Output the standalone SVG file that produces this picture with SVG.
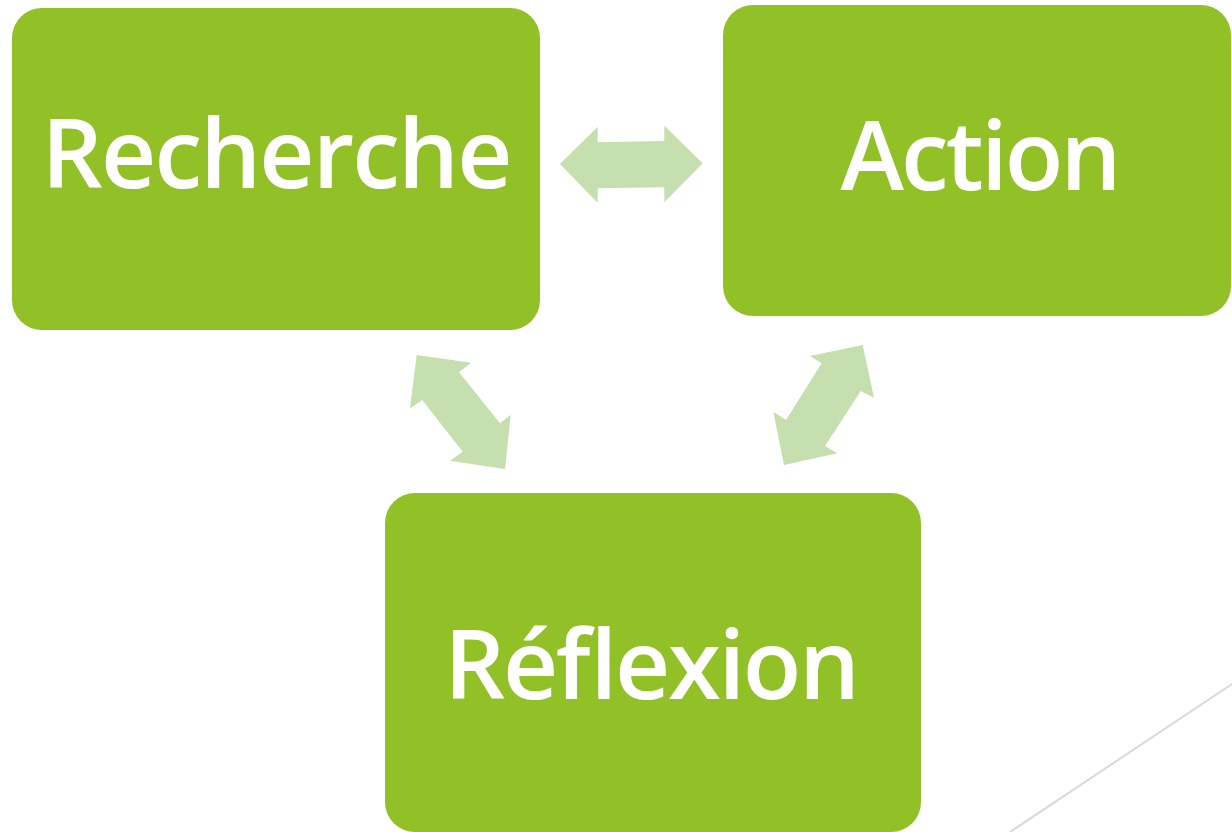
<svg xmlns="http://www.w3.org/2000/svg" width="1232" height="832" viewBox="0 0 1232 832">
<style>
.box{fill:#92C027}
.lbl{fill:#FFFFFF;font-family:"Open Sans","Liberation Sans",sans-serif;font-size:96px;font-weight:600;text-anchor:middle}
.arr{fill:#C5DFAE}
</style>
<rect width="1232" height="832" fill="#FFFFFF"/>
<line x1="1232" y1="684" x2="1010" y2="832" stroke="#D9D9D9" stroke-width="2"/>
<g id="connectors">
<polygon class="arr" points="560,164 597.7,126.7 597.7,142.3 664.3,141 664.3,125.7 702.7,163.3 664.3,202.3 664.3,187.3 597.7,188.3 597.7,202.7"/>
<polygon class="arr" points="416.7,355 471,362.7 459,372.3 500,423.3 510.7,415 505,469 450,460.7 462.7,451.7 422.3,400 410,408.3"/>
<polygon class="arr" points="862.7,345 810,356 821.7,363.3 786,420 773.3,411.7 784,465 837.3,453.3 825,446 860.7,391 874,397.7"/>
</g>
<g id="recherche">
<rect class="box" x="12" y="8" width="528" height="322" rx="30"/>
<text class="lbl" x="277" y="188" textLength="471">Recherche</text>
</g>
<g id="action">
<rect class="box" x="723" y="5" width="508" height="311" rx="30"/>
<text class="lbl" x="981" y="190" textLength="281">Action</text>
</g>
<g id="reflexion">
<rect class="box" x="385" y="493" width="536" height="339" rx="30"/>
<text class="lbl" x="652" y="699" textLength="416">Réflexion</text>
</g>
</svg>
